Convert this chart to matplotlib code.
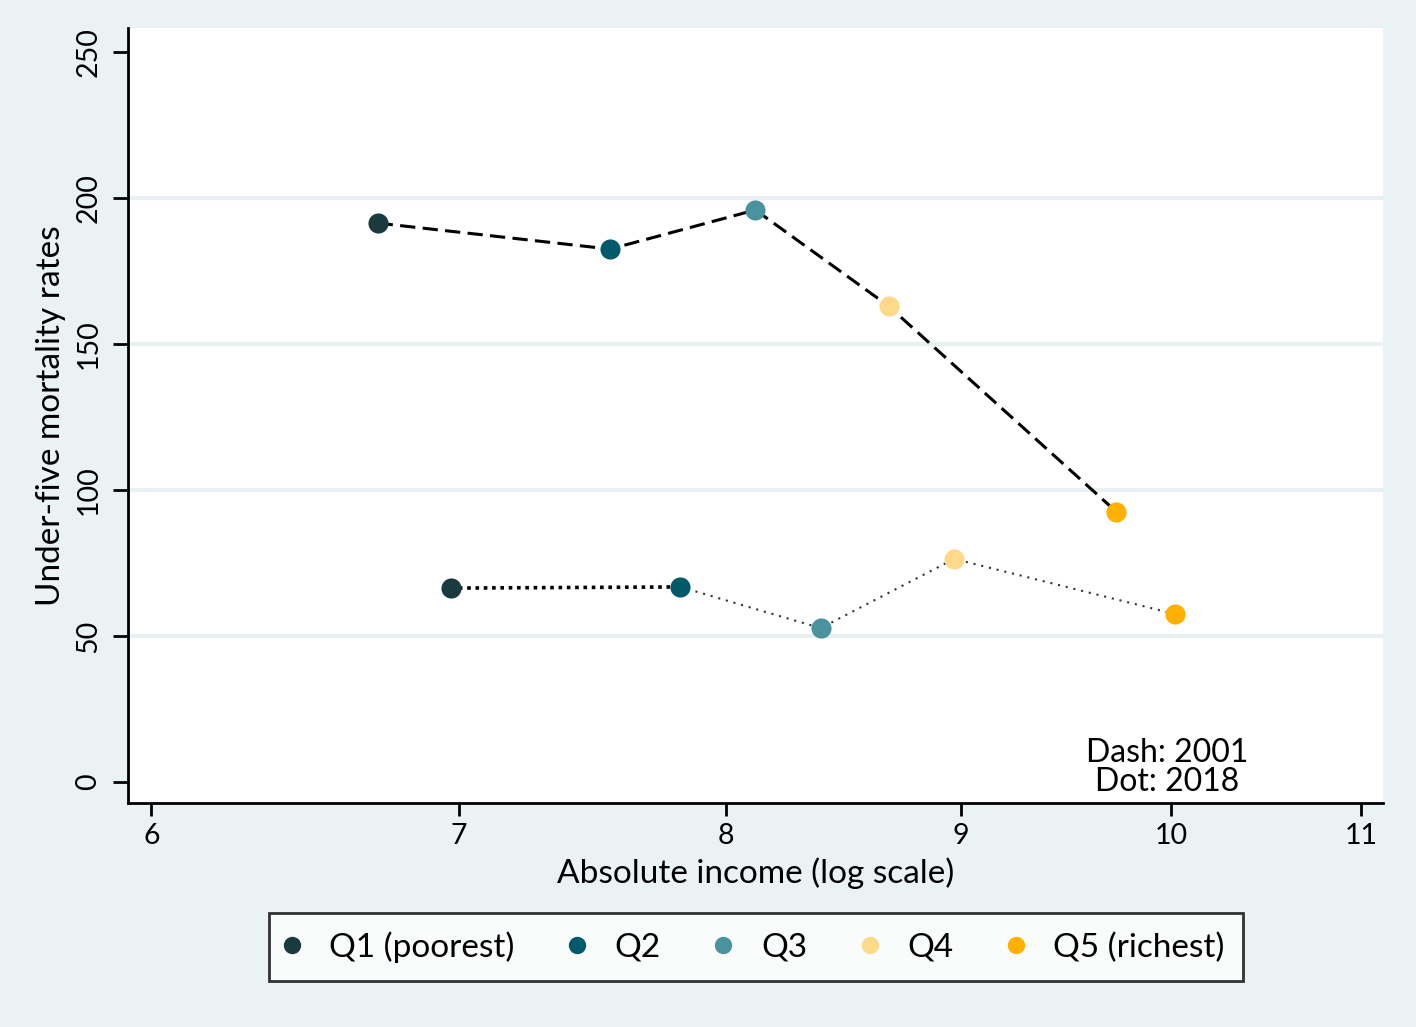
import matplotlib
matplotlib.use("Agg")
import matplotlib.pyplot as plt
from matplotlib.ticker import FixedLocator, NullLocator, FixedFormatter
from matplotlib.lines import Line2D

plt.rcParams['font.family'] = ['Lato', 'DejaVu Sans']

quintiles = ["Q1 (poorest)", "Q2", "Q3", "Q4", "Q5 (richest)"]
colors = ["#1b3a40", "#005a6a", "#4a939e", "#ffd98a", "#ffb000"]
income_2001 = [6.72, 7.55, 8.12, 8.68, 9.73]
u5mr_2001 = [191.4, 182.5, 195.9, 163.0, 92.5]
income_2018 = [6.97, 7.82, 8.39, 8.97, 10.02]
u5mr_2018 = [66.4, 66.8, 52.7, 76.4, 57.5]
xticks = [6, 7, 8, 9, 10, 11]
yticks = [0, 50, 100, 150, 200, 250]
grid_vals = [50, 100, 150, 200]

bg = "#eaf2f3"
fig = plt.figure(figsize=(14.16, 10.27), dpi=100, facecolor=bg)
ax = fig.add_axes([0.0904, 0.2181, 0.8863, 0.7546])
ax.set_facecolor("white")
ax.set_xscale("log")
ax.set_xlim(5.93, 11.12)
ax.set_ylim(-7.2, 258.2)

for g in grid_vals:
    ax.axhline(g, color="#e8f0f2", lw=3, zorder=0)

# 2001 dashed
ax.plot(income_2001, u5mr_2001, ls=(0, (5, 2.4)), color="black", lw=2.2, zorder=2)
# 2018 dotted: first segment thick black, rest thin gray
ax.plot(income_2018[:2], u5mr_2018[:2], ls=(0, (1, 1.3)), color="black", lw=2.6, zorder=2)
ax.plot(income_2018[1:], u5mr_2018[1:], ls=(0, (1, 2.8)), color="#333333", lw=1.5, zorder=2)

for i in range(5):
    ax.scatter([income_2001[i]], [u5mr_2001[i]], s=210, color=colors[i], zorder=3, linewidths=0)
    ax.scatter([income_2018[i]], [u5mr_2018[i]], s=210, color=colors[i], zorder=3, linewidths=0)

for s in ["top", "right"]:
    ax.spines[s].set_visible(False)
for s in ["left", "bottom"]:
    ax.spines[s].set_linewidth(2)
    ax.spines[s].set_color("black")

ax.xaxis.set_major_locator(FixedLocator(xticks))
ax.xaxis.set_major_formatter(FixedFormatter([str(t) for t in xticks]))
ax.xaxis.set_minor_locator(NullLocator())
ax.set_yticks(yticks)
ax.tick_params(axis="x", length=9.5, width=2, labelsize=20.5, pad=5, colors="black")
ax.tick_params(axis="y", length=11, width=2, labelsize=20.5, pad=8, colors="black")
for lab in ax.get_yticklabels():
    lab.set_rotation(90)
    lab.set_va("center")

ax.set_xlabel("Absolute income (log scale)", fontsize=24, labelpad=6)
ax.set_ylabel("Under-five mortality rates", fontsize=24, labelpad=7)

ax.text(0.828, 0.008, "Dash: 2001\nDot: 2018", transform=ax.transAxes, ha="center",
        va="bottom", fontsize=23, linespacing=0.94)

handles = [Line2D([0], [0], marker="o", ls="none", markersize=12.5, color=c,
                  markeredgewidth=0) for c in colors]
leg = fig.legend(handles, quintiles, loc="center", bbox_to_anchor=(0.534, 0.0779),
                 ncol=5, fontsize=24, frameon=True, fancybox=False,
                 handletextpad=1.0, columnspacing=1.75, borderpad=0.55,
                 handlelength=0.25)
leg.get_frame().set_edgecolor("black")
leg.get_frame().set_linewidth(2)
leg.get_frame().set_facecolor("white")

fig.savefig("out.png", dpi=100, facecolor=bg)
